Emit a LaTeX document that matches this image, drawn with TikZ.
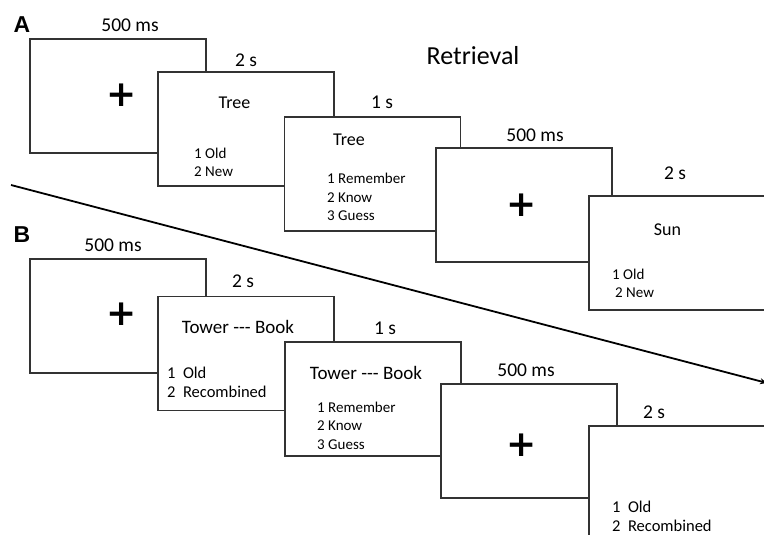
\documentclass[tikz,border=0pt]{standalone}
\usepackage{fontspec}
\setmainfont{Carlito}[Ligatures=TeXOff]
\newfontfamily\labfont{Liberation Sans}
\newfontfamily\crossfont{DejaVu Sans}
\usetikzlibrary{arrows.meta}

\begin{document}
\begin{tikzpicture}[x=1pt,y=-1pt,
    screen/.style={draw=black!80,fill=white,line width=1.4pt,
      minimum width=176pt,minimum height=114pt,inner sep=0},
    dur/.style={font=\fontsize{19.5}{23}\selectfont,inner sep=0},
    word/.style={font=\fontsize{18}{22}\selectfont,inner sep=0},
    pair/.style={font=\fontsize{19}{23}\selectfont,inner sep=0},
    optA/.style={font=\fontsize{15}{18.5}\selectfont,align=left,anchor=west,inner sep=0},
    optB/.style={font=\fontsize{16.5}{19}\selectfont,align=left,anchor=west,inner sep=0},
    cross/.style={font=\crossfont\bfseries\fontsize{36}{40}\selectfont,inner sep=0},
    panel/.style={font=\labfont\bfseries\fontsize{23}{26}\selectfont,inner sep=0}]
    \clip (0,0) rectangle (764,535);
    \useasboundingbox (0,0) rectangle (764,535);

    % A: old / new
    \node[panel] (labA) at (22,24.5) {A};
    \node[font=\fontsize{26}{30}\selectfont,inner sep=0] (title) at (473,56) {Retrieval};

    \node[screen] (a1) at (118,96) {};
    \node[dur] (ta1) at (130,25) {500 ms};
    \node[cross] (xa1) at (121.5,95) {+};

    \node[screen] (a2) at (246,129) {};
    \node[dur] (ta2) at (246,60) {2 s};
    \node[word] (wa2) at (234.5,103) {Tree};
    \node[optA] (oa2) at (194,162.5) {1 Old\\2 New};

    \node[screen] (a3) at (372.5,174) {};
    \node[dur] (ta3) at (382,102) {1 s};
    \node[word] (wa3) at (349,140) {Tree};
    \node[optA] (oa3) at (327,197) {1 Remember\\2 Know\\3 Guess};

    \node[screen] (a4) at (524,205) {};
    \node[dur] (ta4) at (535,135) {500 ms};
    \node[cross] (xa4) at (521.5,205.5) {+};

    \node[screen] (a5) at (677,253) {};
    \node[dur] (ta5) at (675,173) {2 s};
    \node[word] (wa5) at (667.5,230) {Sun};
    \node[optA] (oa5) at (612,283.5) {1 Old\\\hspace{3pt}2 New};

    % divider
    \coordinate (cut1) at (11,185);
    \coordinate (cut2) at (767,383);
    \draw[line width=1.8pt,-{Stealth[length=7pt,width=6pt]}] (cut1) -- (cut2);

    % B: old / recombined
    \node[panel] (labB) at (22,234.5) {B};

    \node[screen] (b1) at (118,316) {};
    \node[dur] (tb1) at (113,245) {500 ms};
    \node[cross] (xb1) at (121.5,314) {+};

    \node[screen] (b2) at (246,353.5) {};
    \node[dur] (tb2) at (243,281) {2 s};
    \node[pair] (wb2) at (238,327) {Tower --- Book};
    \node[optB] (ob2) at (167,382.5) {1\ \ Old\\2\ \ Recombined};

    \node[screen] (b3) at (373,399) {};
    \node[dur] (tb3) at (385,328) {1 s};
    \node[pair] (wb3) at (366,373) {Tower --- Book};
    \node[optA] (ob3) at (317,425.5) {1 Remember\\2 Know\\3 Guess};

    \node[screen] (b4) at (529,441) {};
    \node[dur] (tb4) at (526,370) {500 ms};
    \node[cross] (xb4) at (521.5,445) {+};

    \node[screen] (b5) at (677,483) {};
    \node[dur] (tb5) at (654,412) {2 s};
    \node[optB] (ob5) at (612,516.5) {1\ \ Old\\2\ \ Recombined};
\end{tikzpicture}
\end{document}
